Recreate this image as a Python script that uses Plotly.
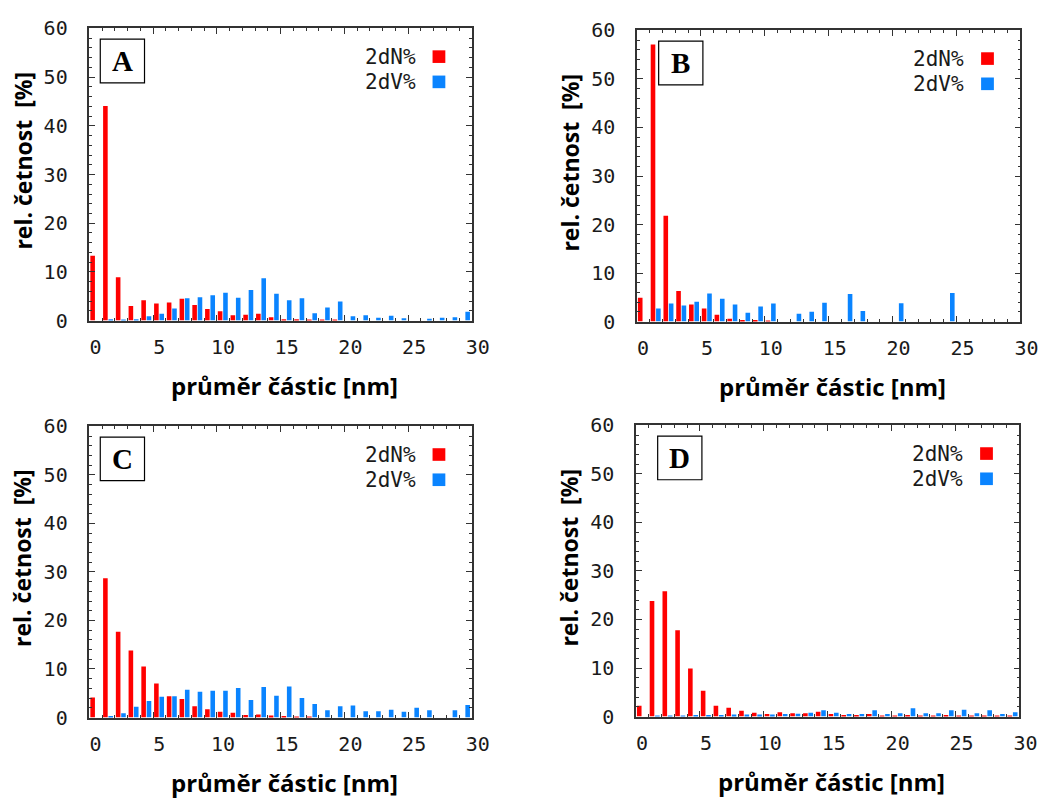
import plotly.graph_objects as go

W, H = 1063, 812

diameters = list(range(30))
x_ticks = [0, 5, 10, 15, 20, 25, 30]
y_ticks = [0, 10, 20, 30, 40, 50, 60]
panel_labels = ["A", "B", "C", "D"]
series_names = ["2dN%", "2dV%"]
x_title = "průměr částic [nm]"
y_title = "rel. četnost  [%]"

a_dN = [13.3, 44.1, 8.9, 3.0, 4.2, 3.5, 3.7, 4.5, 3.2, 2.4, 1.9, 1.1, 1.2, 1.4, 0.7,
        0.3, 0.3, 0.1, 0.1, 0.2, 0, 0, 0, 0, 0, 0, 0, 0, 0, 0]
a_dV = [0, 0.3, 0.15, 0.3, 0.9, 1.4, 2.5, 4.6, 4.8, 5.2, 5.7, 4.7, 6.3, 8.7, 5.5,
        4.2, 4.6, 1.5, 2.7, 3.9, 0.9, 1.1, 0.6, 1.0, 0.5, 0, 0.4, 0.6, 0.7, 1.8]

b_dN = [4.9, 57.1, 21.8, 6.3, 3.5, 2.7, 1.4, 0.6, 0.3, 0.3, 0.2, 0, 0, 0, 0,
        0, 0, 0, 0, 0, 0, 0, 0, 0, 0, 0, 0, 0, 0, 0]
b_dV = [0, 2.7, 3.7, 3.3, 4.1, 5.8, 4.7, 3.5, 1.8, 3.1, 3.7, 0, 1.6, 2.0, 3.9,
        0, 5.7, 2.2, 0, 0, 3.8, 0, 0, 0, 5.9, 0, 0, 0, 0, 0]

c_dN = [4.1, 28.7, 17.7, 13.8, 10.5, 7.0, 4.4, 3.8, 2.3, 1.7, 1.2, 1.0, 0.5, 0.6, 0.4,
        0.3, 0.2, 0.1, 0, 0, 0, 0, 0, 0, 0, 0, 0, 0, 0, 0]
c_dV = [0, 0.3, 0.9, 2.2, 3.4, 4.3, 4.4, 5.7, 5.3, 5.5, 5.5, 6.1, 3.6, 6.3, 4.5,
        6.4, 4.0, 2.8, 1.5, 2.3, 2.5, 1.3, 1.3, 1.6, 1.2, 2.0, 1.5, 0, 1.5, 2.6]

d_dN = [2.2, 23.8, 25.8, 17.8, 9.9, 5.3, 2.2, 1.8, 1.2, 0.8, 0.5, 0.9, 0.7, 0.7, 1.0,
        0.5, 0.3, 0.3, 0.5, 0.2, 0.2, 0.3, 0.1, 0.2, 0.3, 0.1, 0.1, 0.1, 0.1, 0.1]
d_dV = [0, 0.1, 0.1, 0.2, 0.3, 0.3, 0.3, 0.4, 0.4, 0.4, 0.4, 0.5, 0.6, 0.8, 1.3,
        0.8, 0.5, 0.5, 1.3, 0.5, 0.7, 1.7, 0.7, 0.7, 1.3, 1.4, 0.7, 1.3, 0.5, 0.9]

panels_dN = [a_dN, b_dN, c_dN, d_dN]
panels_dV = [a_dV, b_dV, c_dV, d_dV]

RED = "#ff0000"
BLUE = "#0a84ff"
AXC = "#333333"

# plot boxes in pixels: (left, top, right, bottom)
boxes = [(91, 17, 480, 318), (648, 19, 1038, 319),
         (91, 427, 480, 727), (647, 426, 1037, 726)]


def px(x):
    return x / W


def py(y):
    return 1 - y / H


fig = go.Figure()
annotations = []
shapes = []

for i, (l, t, r, b) in enumerate(boxes):
    n = "" if i == 0 else str(i + 1)
    xa, ya = "x" + n, "y" + n
    fig.add_trace(go.Bar(x=diameters, y=panels_dN[i], name=series_names[0],
                         marker=dict(color=RED, line=dict(width=0)),
                         width=0.36, offset=0.07, xaxis=xa, yaxis=ya,
                         showlegend=False))
    fig.add_trace(go.Bar(x=diameters, y=panels_dV[i], name=series_names[1],
                         marker=dict(color=BLUE, line=dict(width=0)),
                         width=0.36, offset=0.49, xaxis=xa, yaxis=ya,
                         showlegend=False))
    common = dict(showline=True, linecolor=AXC, linewidth=1.5, mirror="allticks",
                  ticks="inside", ticklen=6, tickwidth=1.2, tickcolor=AXC,
                  showgrid=False, zeroline=False,
                  tickfont=dict(family="DejaVu Sans Mono", size=20, color="#1a1a1a"))
    fig.update_layout(**{
        "xaxis" + n: dict(domain=[px(l), px(r)], anchor=ya, range=[0, 30],
                          tickvals=x_ticks, ticklabelstandoff=8, ticklabelshift=6,
                          minor=dict(dtick=1, ticks="inside", ticklen=3,
                                     tickcolor=AXC, tickwidth=1),
                          **common),
        "yaxis" + n: dict(domain=[py(b), py(t)], anchor=xa, range=[0, 60],
                          tickvals=y_ticks, ticklabelstandoff=16,
                          minor=dict(dtick=2, ticks="inside", ticklen=3,
                                     tickcolor=AXC, tickwidth=1),
                          **common),
    })
    # axis titles
    annotations.append(dict(text=x_title, x=px((l + r) / 2 + 4), y=py(b + 67),
                            xref="paper", yref="paper", showarrow=False,
                            xanchor="center", yanchor="middle",
                            font=dict(family="Open Sans", size=24, color="#000000",
                                      weight="bold")))
    annotations.append(dict(text=y_title, x=px(l - 68), y=py((t + b) / 2 - 14),
                            xref="paper", yref="paper", showarrow=False,
                            textangle=-90, xanchor="center", yanchor="middle",
                            font=dict(family="Open Sans", size=23, color="#000000",
                                      weight="bold")))
    # panel label box
    bl = l + 11 if i % 2 == 0 else l + 22
    bt = t + 11
    shapes.append(dict(type="rect", xref="paper", yref="paper",
                       x0=px(bl), x1=px(bl + 45), y0=py(bt + 45), y1=py(bt),
                       line=dict(color="#000000", width=1.2), fillcolor="white"))
    annotations.append(dict(text="<b>%s</b>" % panel_labels[i], x=px(bl + 22.5),
                            y=py(bt + 23), xref="paper", yref="paper",
                            showarrow=False, xanchor="center", yanchor="middle",
                            font=dict(family="Liberation Serif", size=29,
                                      color="#000000")))
    # legend (text left of colour square, as in the original)
    for k, (name, col) in enumerate(zip(series_names, [RED, BLUE])):
        cy = t + 29 + 26 * k
        annotations.append(dict(text=name, x=px(r - 55), y=py(cy),
                                xref="paper", yref="paper", showarrow=False,
                                xanchor="right", yanchor="middle",
                                font=dict(family="DejaVu Sans Mono", size=21,
                                          color="#1a1a1a")))
        shapes.append(dict(type="rect", xref="paper", yref="paper",
                           x0=px(r - 40), x1=px(r - 27), y0=py(cy + 6.5),
                           y1=py(cy - 6.5), line=dict(width=0), fillcolor=col))

fig.update_layout(width=W, height=H, margin=dict(l=0, r=0, t=0, b=0),
                  paper_bgcolor="white", plot_bgcolor="white",
                  barmode="overlay", annotations=annotations, shapes=shapes)

fig.write_html("out.html")
